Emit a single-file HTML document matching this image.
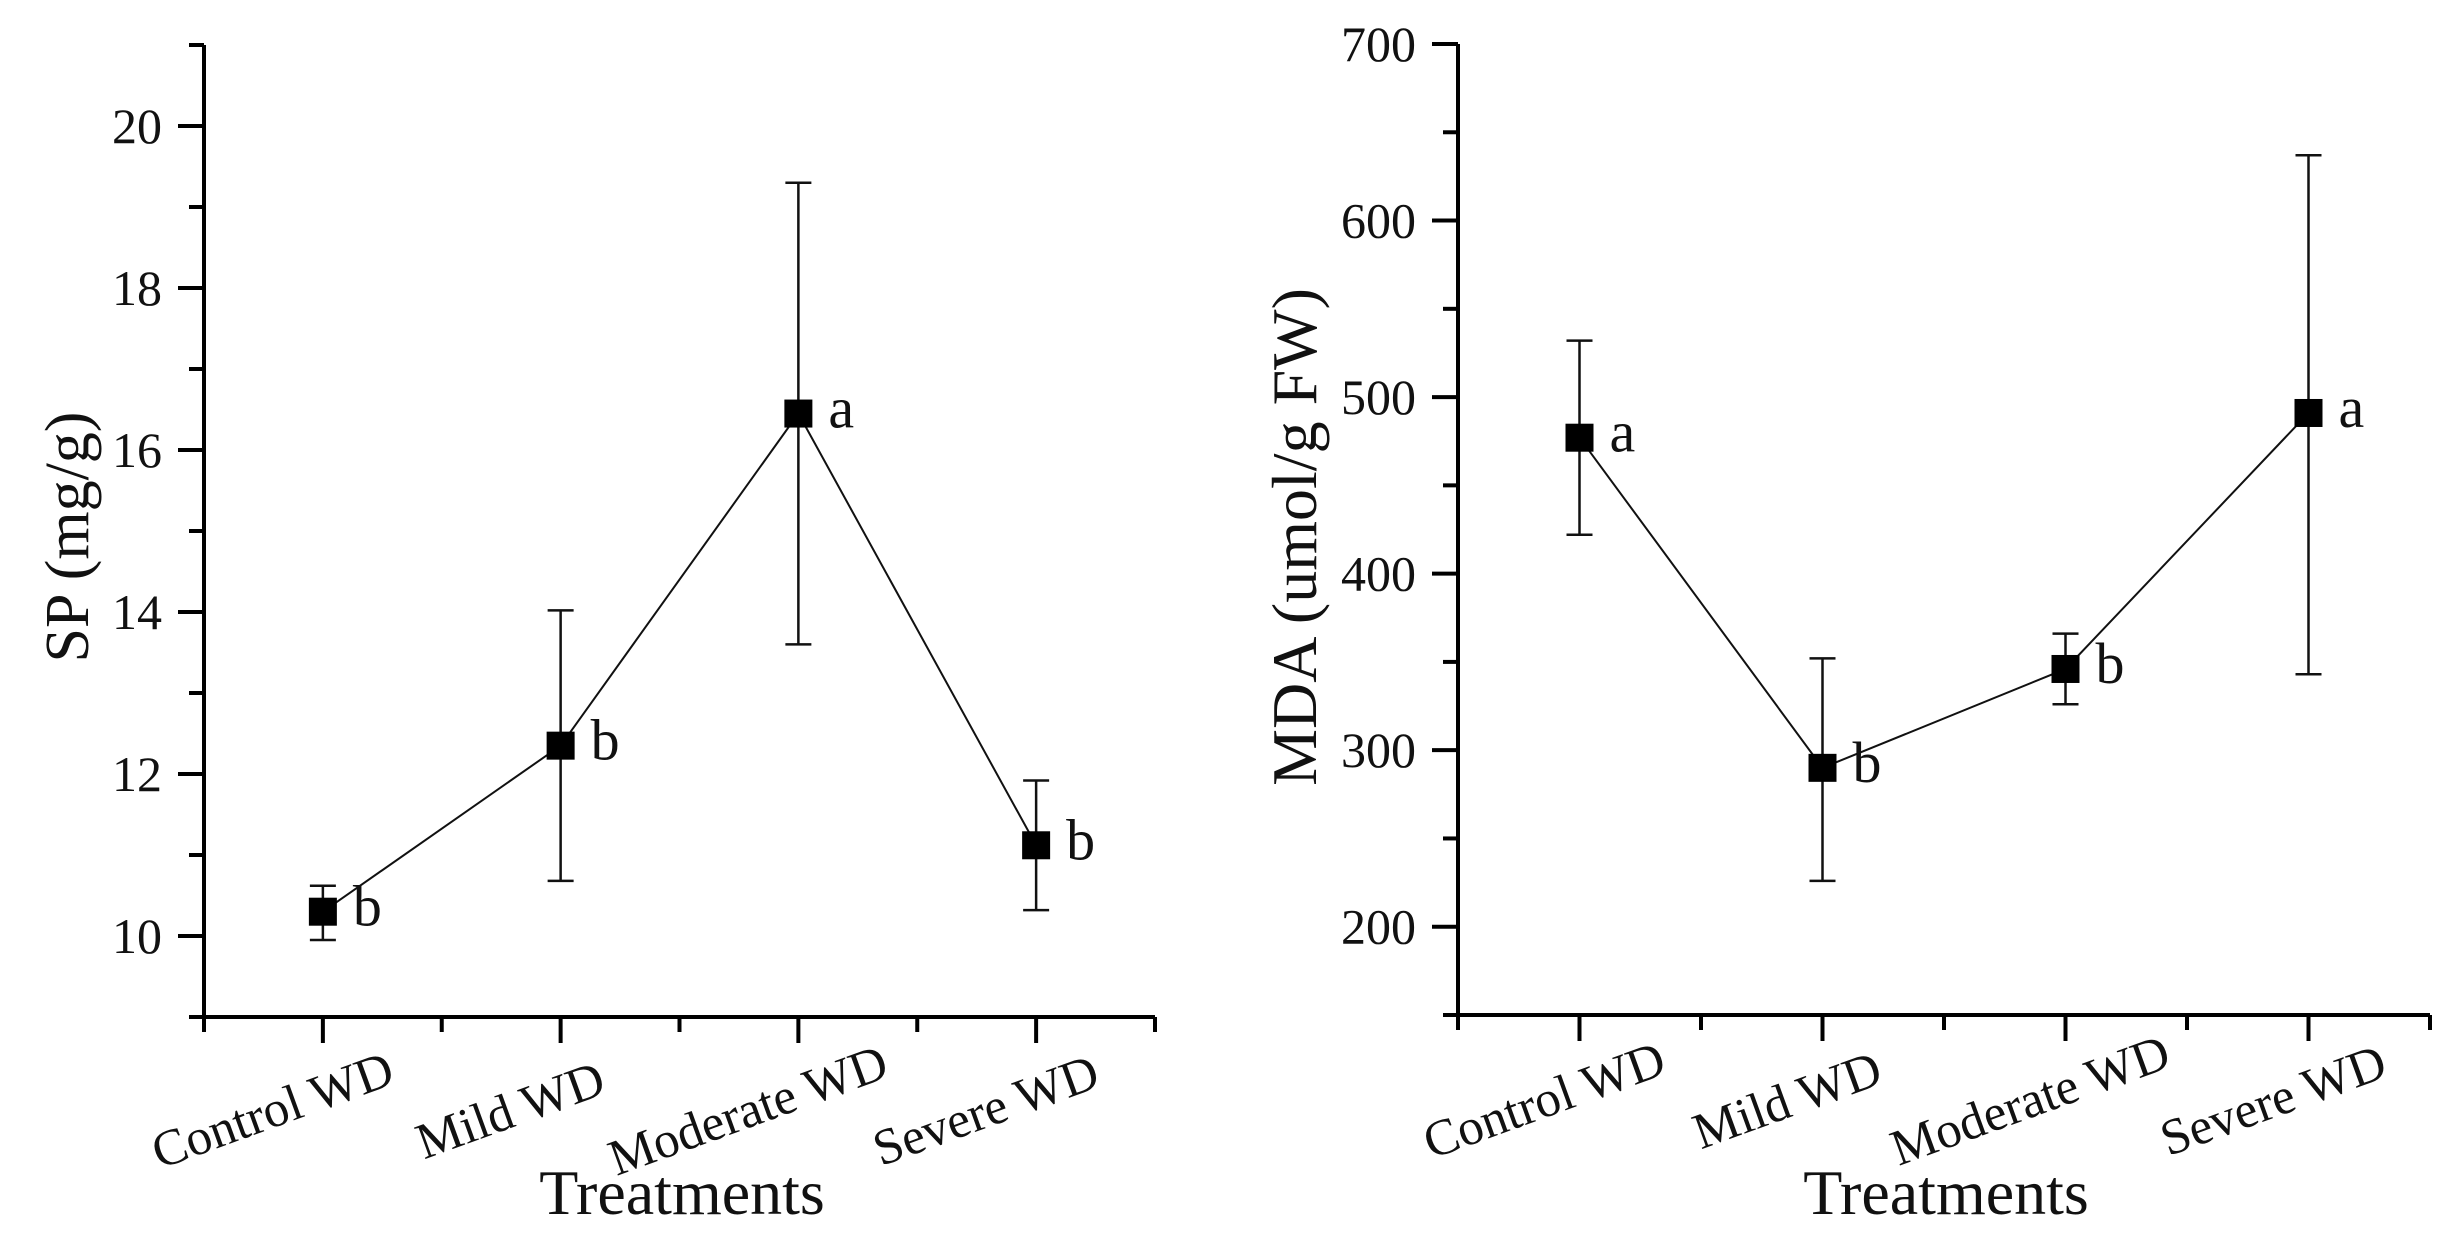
<!DOCTYPE html>
<html><head><meta charset="utf-8"><style>
html,body{margin:0;padding:0;background:#fff;}
svg{display:block;font-family:"Liberation Serif",serif;}
</style></head><body>
<svg id="chart" width="2448" height="1248" viewBox="0 0 2448 1248" xmlns="http://www.w3.org/2000/svg"></svg>
<script>
const categories = ["Control WD","Mild WD","Moderate WD","Severe WD"];
const spValues = [10.3, 12.35, 16.45, 11.12];
const spLow = [9.95, 10.68, 13.6, 10.32];
const spHigh = [10.62, 14.02, 19.3, 11.92];
const spLetters = ["b","b","a","b"];
const spTicks = [10, 12, 14, 16, 18, 20];
const mdaValues = [477, 290, 346, 491];
const mdaLow = [422, 226, 326, 343];
const mdaHigh = [532, 352, 366, 637];
const mdaLetters = ["a","b","b","a"];
const mdaTicks = [200, 300, 400, 500, 600, 700];

const svg = document.getElementById('chart');
const NS = "http://www.w3.org/2000/svg";
function el(tag, attrs, parent){ const e=document.createElementNS(NS,tag); for(const k in attrs) e.setAttribute(k,attrs[k]); (parent||svg).appendChild(e); return e; }

function drawPanel(cfg){
  const g = el('g',{});
  
  
  const x = i => cfg.x0 + (i+0.5)*(cfg.x1-cfg.x0)/categories.length;
  const y = v => cfg.yb - (v-cfg.ymin)/(cfg.ymax-cfg.ymin)*(cfg.yb-cfg.yt);
  const ya = el('line',{x1:cfg.x0,y1:cfg.yt,x2:cfg.x0,y2:cfg.yb+14,stroke:'#000','stroke-width':4},g);
  
  
  const xa = el('line',{x1:cfg.x0-13,y1:cfg.yb,x2:cfg.x1,y2:cfg.yb,stroke:'#000','stroke-width':4},g);
  
  
  const step = cfg.ticks[1]-cfg.ticks[0];
  for(let v=cfg.ymin; v<=cfg.ymax+1e-9; v+=step/2){
    const major = cfg.ticks.some(t=>Math.abs(t-v)<1e-9);
    el('line',{x1:cfg.x0-(major?26:15),y1:y(v),x2:cfg.x0,y2:y(v),stroke:'#000','stroke-width':4},g);
  }
  cfg.ticks.forEach(t=>{
    const tx = el('text',{x:cfg.x0-42,y:y(t)+17,'text-anchor':'end','font-size':50,fill:'#111'},g);
    tx.textContent = t;
    
    
  });
  for(let i=0;i<=categories.length;i++){
    const xm = cfg.x0 + i*(cfg.x1-cfg.x0)/categories.length;
    el('line',{x1:xm,y1:cfg.yb,x2:xm,y2:cfg.yb+15,stroke:'#000','stroke-width':4},g);
  }
  categories.forEach((c,i)=>{
    el('line',{x1:x(i),y1:cfg.yb,x2:x(i),y2:cfg.yb+26,stroke:'#000','stroke-width':4},g);
    const cx = x(i)+cfg.lblDx, cy = cfg.yb+cfg.lblDy;
    const tx = el('text',{x:cx,y:cy,'text-anchor':'middle','dominant-baseline':'central','font-size':51,fill:'#111',transform:`rotate(-20 ${cx} ${cy})`},g);
    tx.textContent = c;
    
    
  });
  const xt = el('text',{x:cfg.xTitleX,y:1214,'text-anchor':'middle','font-size':64,fill:'#111'},g);
  xt.textContent = 'Treatments';
  
  
  const yt = el('text',{x:cfg.yTitleX,y:537,'text-anchor':'middle','font-size':cfg.yTitleSize,fill:'#111',transform:`rotate(-90 ${cfg.yTitleX} 537)`},g);
  yt.textContent = cfg.ytitle;
  
  
  const pts = cfg.vals.map((v,i)=>x(i)+','+y(v)).join(' ');
  const pl = el('polyline',{points:pts,fill:'none',stroke:'#111','stroke-width':2},g);
  
  
  cfg.vals.forEach((v,i)=>{
    const eb = el('path',{d:`M${x(i)},${y(cfg.lo[i])}V${y(cfg.hi[i])}M${x(i)-13},${y(cfg.lo[i])}h26M${x(i)-13},${y(cfg.hi[i])}h26`,stroke:'#111','stroke-width':2.5,fill:'none'},g);
    
    
    const m = el('rect',{x:x(i)-14,y:y(v)-14,width:28,height:28,fill:'#000'},g);
    
    
    const lt = el('text',{x:x(i)+30,y:y(v)+14,'font-size':58,fill:'#111'},g);
    lt.textContent = cfg.letters[i];
    
    
  });
}
drawPanel({name:'sp-panel',x0:204,x1:1155,yt:45,yb:1017,ymin:9,ymax:21,ticks:spTicks,vals:spValues,lo:spLow,hi:spHigh,letters:spLetters,ytitle:'SP (mg/g)',yTitleX:88,yTitleSize:62,xTitleX:682,lblDx:-50,lblDy:94});
drawPanel({name:'mda-panel',x0:1458,x1:2430,yt:44,yb:1015,ymin:150,ymax:700,ticks:mdaTicks,vals:mdaValues,lo:mdaLow,hi:mdaHigh,letters:mdaLetters,ytitle:'MDA (umol/g FW)',yTitleX:1316,yTitleSize:64,xTitleX:1946,lblDx:-35,lblDy:86});
</script>
</body></html>
